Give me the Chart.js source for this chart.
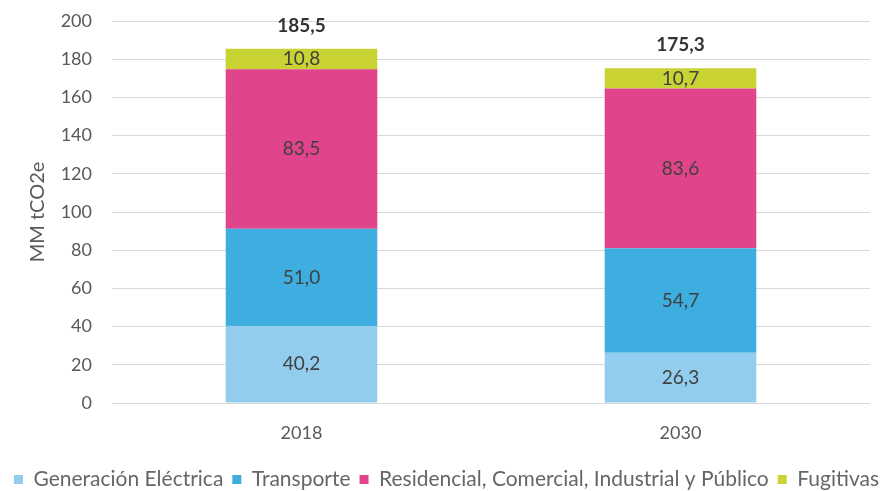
<!DOCTYPE html>
<html>
<head>
<meta charset="utf-8">
<script src="https://cdn.jsdelivr.net/npm/chart.js@4"></script>
<style>
  html, body { margin: 0; padding: 0; background: #fff; }
  #wrap { width: 893px; height: 491px; }
</style>
</head>
<body>
<div id="wrap"><canvas id="chartEmisiones" width="893" height="491"></canvas></div>
<script>
const years = ['2018', '2030'];
const generacion = [40.2, 26.3];
const transporte = [51.0, 54.7];
const residencial = [83.5, 83.6];
const fugitivas = [10.8, 10.7];
const totales = [185.5, 175.3];
const yTicks = [0, 20, 40, 60, 80, 100, 120, 140, 160, 180, 200];

const fmt = v => v.toFixed(1).replace('.', ',');
const FONT = 'Lato, "Open Sans", sans-serif';

// etiquetas dentro de las barras y total encima
const etiquetas = {
    id: 'etiquetas',
    afterDatasetsDraw(chart) {
        const ctx = chart.ctx;
        ctx.save();
        ctx.textAlign = 'center';
        ctx.textBaseline = 'middle';
        ctx.font = '19px ' + FONT;
        ctx.fillStyle = '#404040';
        chart.data.datasets.forEach((ds, i) => {
            chart.getDatasetMeta(i).data.forEach((bar, j) => {
                const mid = (bar.y + bar.base) / 2;
                ctx.fillText(fmt(ds.data[j]), bar.x, mid);
            });
        });
        ctx.font = 'bold 19px ' + FONT;
        ctx.fillStyle = '#333333';
        const top = chart.getDatasetMeta(chart.data.datasets.length - 1).data;
        totales.forEach((t, j) => {
            const y = chart.scales.y.getPixelForValue(t);
            ctx.fillText(fmt(t), top[j].x, y - 23);
        });
        ctx.restore();
    }
};

new Chart(document.getElementById('chartEmisiones'), {
    type: 'bar',
    data: {
        labels: years,
        datasets: [
            { label: 'Generación Eléctrica', data: generacion, backgroundColor: '#92cdee' },
            { label: 'Transporte', data: transporte, backgroundColor: '#3eaee0' },
            { label: 'Residencial, Comercial, Industrial y Público', data: residencial, backgroundColor: '#e0448a' },
            { label: 'Fugitivas', data: fugitivas, backgroundColor: '#cad334' }
        ]
    },
    options: {
        responsive: false,
        animation: false,
        layout: { padding: { top: 0, left: 0, right: 0, bottom: -9 } },
        datasets: { bar: { categoryPercentage: 1, barPercentage: 0.4 } },
        plugins: {
            legend: {
                position: 'bottom',
                labels: {
                    boxWidth: 9,
                    boxHeight: 9,
                    padding: 9,
                    color: '#666666',
                    font: { family: FONT, size: 21 }
                }
            },
            tooltip: { enabled: false }
        },
        scales: {
            x: {
                stacked: true,
                grid: { display: false },
                border: { display: false },
                ticks: { color: '#595959', font: { family: FONT, size: 18 }, padding: 11 },
                afterFit: s => { s.height = 57; }
            },
            y: {
                stacked: true,
                min: 0,
                max: 200,
                afterBuildTicks: s => { s.ticks = yTicks.map(v => ({ value: v })); },
                grid: { color: '#d9d9d9', drawTicks: false },
                border: { display: false },
                ticks: { color: '#595959', font: { family: FONT, size: 18 }, padding: 20 },
                title: { display: true, text: 'MM tCO2e', color: '#595959', font: { family: FONT, size: 20 }, padding: { top: 26, bottom: 0 } },
                afterFit: s => { s.width = 112; s.paddingTop = 21; s.paddingBottom = 0; }
            },
            // espacio vacío a la derecha del área de trazado
            margen: {
                position: 'right',
                display: true,
                grid: { display: false },
                border: { display: false },
                ticks: { display: false },
                afterFit: s => { s.width = 23; s.paddingTop = 0; s.paddingBottom = 0; }
            }
        }
    },
    plugins: [etiquetas]
});
</script>
</body>
</html>
